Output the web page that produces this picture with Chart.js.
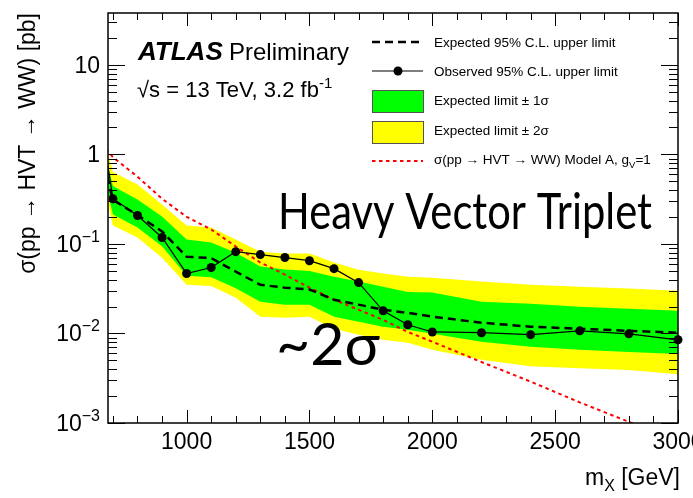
<!DOCTYPE html>
<html>
<head>
<meta charset="utf-8">
<script src="https://cdn.jsdelivr.net/npm/chart.js@4.4.0/dist/chart.umd.min.js"></script>
<style>
  html, body { margin: 0; padding: 0; background: #fff; }
  #wrap { width: 693px; height: 498px; }
</style>
</head>
<body>
<div id="wrap"><canvas id="limitChart"></canvas></div>
<script>
// resonance masses [GeV]
var massPoints = [600, 700, 800, 900, 1000, 1100, 1200, 1300, 1400, 1500, 1600, 1700, 1800, 1900, 2000, 2200, 2400, 2600, 2800, 3000];

// 95% CL limits on sigma x BR [pb]
var observedLimit = [20, 0.32, 0.208, 0.118, 0.0467, 0.0545, 0.082, 0.076, 0.0705, 0.065, 0.053, 0.037, 0.0179, 0.0125, 0.0104, 0.0102, 0.0097, 0.0107, 0.0099, 0.0085];
var expectedLimit = [4, 0.31, 0.21, 0.138, 0.072, 0.0695, 0.049, 0.035, 0.0325, 0.031, 0.0238, 0.021, 0.0184, 0.017, 0.0154, 0.0132, 0.0119, 0.0113, 0.0107, 0.0102];
var oneSigmaUp = [6, 0.443, 0.314, 0.203, 0.112, 0.104, 0.080, 0.056, 0.052, 0.050, 0.043, 0.038, 0.0333, 0.029, 0.0286, 0.0226, 0.0215, 0.0199, 0.0189, 0.0179];
var oneSigmaDown = [3, 0.213, 0.153, 0.094, 0.044, 0.0425, 0.032, 0.0226, 0.021, 0.021, 0.0154, 0.0135, 0.0119, 0.011, 0.0099, 0.0081, 0.0071, 0.0066, 0.0062, 0.0059];
var twoSigmaUp = [8, 0.635, 0.462, 0.276, 0.161, 0.153, 0.112, 0.082, 0.078, 0.078, 0.062, 0.0516, 0.0467, 0.043, 0.042, 0.038, 0.035, 0.0333, 0.0317, 0.030];
var twoSigmaDown = [2.5, 0.161, 0.118, 0.070, 0.035, 0.034, 0.025, 0.0154, 0.015, 0.0154, 0.0113, 0.0097, 0.0085, 0.0079, 0.0066, 0.0051, 0.0043, 0.0041, 0.0039, 0.0035];

// theory prediction, HVT model A with g_V = 1
var hvtModelA = [2.0, 0.93, 0.564, 0.32, 0.201, 0.145, 0.0936, 0.062, 0.0454, 0.0325, 0.0238, 0.0184, 0.0142, 0.0104, 0.0081, 0.0048, 0.0029, 0.0017, 0.00103, 0.00061];

var xTickValues = [1000, 1500, 2000, 2500, 3000];
var yTickPowers = [-3, -2, -1, 0, 1];

var ROOT_FONT = "'Liberation Sans', Arial, sans-serif";
var SLIDE_FONT = 'Lato, "Open Sans", sans-serif';
var GREEN = '#00ff00';
var YELLOW = '#ffff00';
var RED = '#ff0000';

function toPoints(values) {
    return massPoints.map(function (m, i) { return { x: m, y: values[i] }; });
}

function bandEdge(values, color, fillTarget, order) {
    return {
        data: toPoints(values),
        borderColor: 'rgba(0,0,0,0)',
        borderWidth: 0,
        backgroundColor: color,
        pointRadius: 0,
        fill: fillTarget,
        order: order
    };
}

// draw a run of text pieces left to right starting at x
function drawRuns(ctx, runs, x, y) {
    runs.forEach(function (r) {
        ctx.font = (r.bold ? 'italic bold ' : '') + r.size + 'px ' + ROOT_FONT;
        ctx.fillText(r.text, x, y + (r.dy || 0));
        x += ctx.measureText(r.text).width;
    });
    return x;
}

function runsWidth(ctx, runs) {
    var w = 0;
    runs.forEach(function (r) {
        ctx.font = (r.bold ? 'italic bold ' : '') + r.size + 'px ' + ROOT_FONT;
        w += ctx.measureText(r.text).width;
    });
    return w;
}

function hline(ctx, x1, y1, x2, y2) {
    ctx.beginPath();
    ctx.moveTo(x1, y1);
    ctx.lineTo(x2, y2);
    ctx.stroke();
}

var frameAndTicks = {
    id: 'frameAndTicks',
    afterDatasetsDraw: function (chart) {
        var ctx = chart.ctx, area = chart.chartArea;
        var xs = chart.scales.x, ys = chart.scales.y;
        ctx.save();
        ctx.strokeStyle = '#000';
        ctx.lineWidth = 1;

        // x ticks every 100 GeV, longer ones every 500 GeV
        for (var m = 700; m <= 3000; m += 100) {
            var px = Math.round(xs.getPixelForValue(m)) + 0.5;
            var len = (m % 500 === 0) ? 13 : 7;
            hline(ctx, px, area.bottom, px, area.bottom - len);
            hline(ctx, px, area.top, px, area.top + len);
        }

        // log ticks on left and right
        for (var p = -3; p <= 1; p++) {
            for (var k = 1; k <= 9; k++) {
                var v = k * Math.pow(10, p);
                if (v > ys.max) break;
                var py = Math.round(ys.getPixelForValue(v)) + 0.5;
                var l = (k === 1) ? 17 : 9;
                hline(ctx, area.left, py, area.left + l, py);
                hline(ctx, area.right, py, area.right - l, py);
            }
        }

        ctx.lineWidth = 1.5;
        ctx.strokeRect(area.left, area.top, area.right - area.left, area.bottom - area.top);
        ctx.restore();
    },
    afterDraw: function (chart) {
        var ctx = chart.ctx, area = chart.chartArea;
        var xs = chart.scales.x, ys = chart.scales.y;
        ctx.save();
        ctx.fillStyle = '#000';
        ctx.textBaseline = 'alphabetic';

        // x tick labels
        ctx.font = '23px ' + ROOT_FONT;
        ctx.textAlign = 'center';
        xTickValues.forEach(function (v) {
            ctx.fillText(String(v), xs.getPixelForValue(v), 449);
        });

        // y tick labels as powers of ten
        ctx.textAlign = 'left';
        yTickPowers.forEach(function (p) {
            var y = ys.getPixelForValue(Math.pow(10, p)) + 8;
            var runs;
            if (p === 0) runs = [{ text: '1', size: 23 }];
            else if (p === 1) runs = [{ text: '10', size: 23 }];
            else runs = [{ text: '10', size: 23 }, { text: '\u2212' + Math.abs(p), size: 16, dy: -10 }];
            drawRuns(ctx, runs, 100 - runsWidth(ctx, runs), y);
        });

        // axis titles
        var xTitle = [{ text: 'm', size: 23 }, { text: 'X', size: 16, dy: 6 }, { text: ' [GeV]', size: 23 }];
        drawRuns(ctx, xTitle, area.right + 2 - runsWidth(ctx, xTitle), 485);

        ctx.save();
        ctx.translate(35, area.top);
        ctx.rotate(-Math.PI / 2);
        ctx.textAlign = 'right';
        ctx.font = '23px ' + ROOT_FONT;
        ctx.fillText('\u03c3(pp \u2192 HVT \u2192 WW) [pb]', 0, 0);
        ctx.restore();

        // experiment label
        ctx.textAlign = 'left';
        drawRuns(ctx, [{ text: 'ATLAS', size: 26, bold: true }], 138, 60);
        drawRuns(ctx, [{ text: 'Preliminary', size: 24 }], 229, 60);
        drawRuns(ctx, [
            { text: '\u221as = 13 TeV, 3.2 fb', size: 22 },
            { text: '-1', size: 15, dy: -9 }
        ], 137, 97);

        // legend
        var lx1 = 372, lx2 = 423, tx = 434;
        ctx.lineWidth = 2.5;
        ctx.strokeStyle = '#000';
        ctx.setLineDash([8, 5]);
        hline(ctx, lx1, 42, lx2, 42);
        ctx.setLineDash([]);
        ctx.lineWidth = 1.2;
        hline(ctx, lx1, 71, lx2, 71);
        ctx.beginPath();
        ctx.arc(398, 71, 4.5, 0, Math.PI * 2);
        ctx.fill();

        ctx.lineWidth = 1;
        ctx.strokeStyle = '#555';
        ctx.fillStyle = GREEN;
        ctx.fillRect(lx1, 90, lx2 - lx1, 22);
        ctx.strokeRect(lx1 + 0.5, 90.5, lx2 - lx1, 22);
        ctx.fillStyle = YELLOW;
        ctx.fillRect(lx1, 121, lx2 - lx1, 22);
        ctx.strokeRect(lx1 + 0.5, 121.5, lx2 - lx1, 22);

        ctx.strokeStyle = RED;
        ctx.lineWidth = 2;
        ctx.setLineDash([3.5, 3.5]);
        hline(ctx, lx1, 161, lx2, 161);
        ctx.setLineDash([]);

        ctx.fillStyle = '#000';
        var fs = 13.5;
        drawRuns(ctx, [{ text: 'Expected 95% C.L. upper limit', size: fs }], tx, 47);
        drawRuns(ctx, [{ text: 'Observed 95% C.L. upper limit', size: fs }], tx, 76);
        drawRuns(ctx, [{ text: 'Expected limit \u00b1 1\u03c3', size: fs }], tx, 105);
        drawRuns(ctx, [{ text: 'Expected limit \u00b1 2\u03c3', size: fs }], tx, 135);
        drawRuns(ctx, [
            { text: '\u03c3(pp \u2192 HVT \u2192 WW) Model A, g', size: fs },
            { text: 'V', size: 9.5, dy: 4 },
            { text: '=1', size: fs }
        ], tx, 164);

        // slide annotations
        ctx.font = '50px ' + SLIDE_FONT;
        var title = 'Heavy Vector Triplet';
        var sx = 374 / ctx.measureText(title).width;
        ctx.save();
        ctx.translate(278, 229);
        ctx.scale(sx, 1);
        ctx.fillText(title, 0, 0);
        ctx.restore();

        ctx.font = '59px ' + SLIDE_FONT;
        ctx.fillText('~2\u03c3', 276, 365);

        ctx.restore();
    }
};

var ctx = document.getElementById('limitChart').getContext('2d');
var limitChart = new Chart(ctx, {
    type: 'line',
    data: {
        datasets: [
            {
                data: toPoints(observedLimit),
                borderColor: '#000',
                borderWidth: 1.2,
                pointRadius: 4.5,
                pointBackgroundColor: '#000',
                pointBorderWidth: 0,
                fill: false,
                order: 1,
                clip: { left: 0, top: 0, right: 6, bottom: 0 }
            },
            {
                data: toPoints(expectedLimit),
                borderColor: '#000',
                borderWidth: 2.5,
                borderDash: [8, 5],
                pointRadius: 0,
                fill: false,
                order: 2
            },
            {
                data: toPoints(hvtModelA),
                borderColor: RED,
                borderWidth: 2,
                borderDash: [3.5, 3.5],
                pointRadius: 0,
                fill: false,
                order: 3
            },
            bandEdge(oneSigmaUp, GREEN, '+1', 4),
            bandEdge(oneSigmaDown, GREEN, false, 4),
            bandEdge(twoSigmaUp, YELLOW, '+1', 5),
            bandEdge(twoSigmaDown, YELLOW, false, 5)
        ]
    },
    options: {
        responsive: true,
        maintainAspectRatio: false,
        animation: false,
        layout: { padding: { left: 108, right: 15, top: 13, bottom: 75 } },
        scales: {
            x: { type: 'linear', min: 680, max: 3000, display: false },
            y: { type: 'logarithmic', min: 0.001, max: 38, display: false }
        },
        plugins: {
            legend: { display: false },
            tooltip: { enabled: false }
        }
    },
    plugins: [frameAndTicks]
});
</script>
</body>
</html>
